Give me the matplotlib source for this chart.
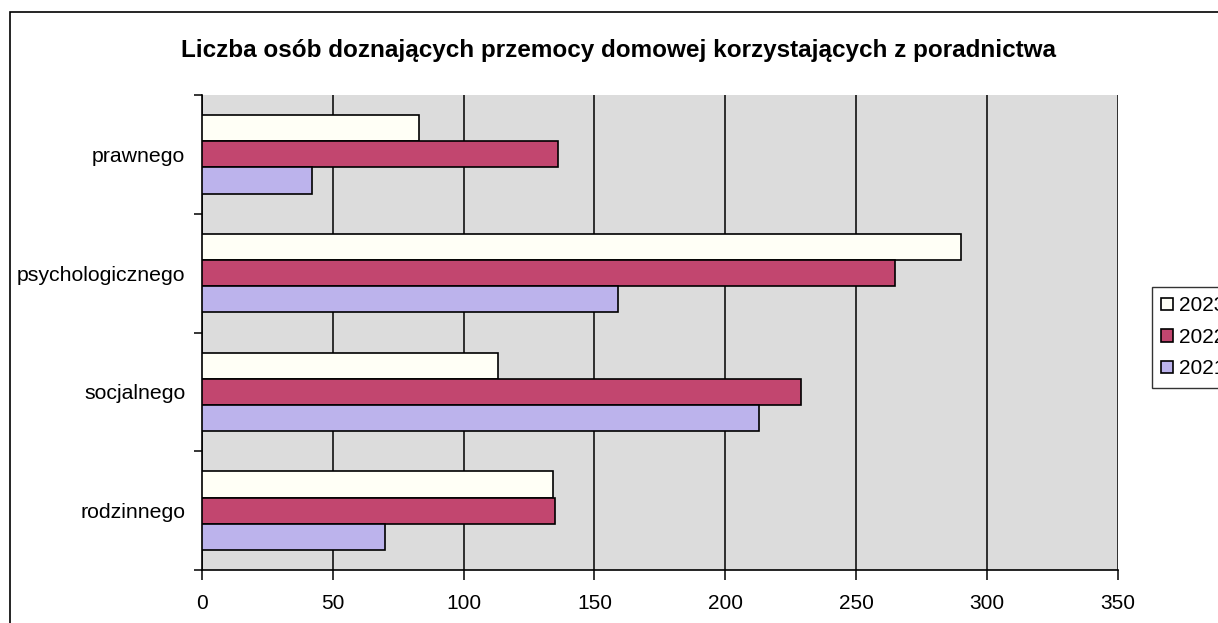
import numpy as np
import matplotlib
matplotlib.use("Agg")
import matplotlib.pyplot as plt
from matplotlib.patches import Rectangle
from matplotlib.ticker import MultipleLocator, FixedLocator

plt.rcParams['font.family'] = ['Liberation Sans', 'DejaVu Sans']

categories = ["prawnego", "psychologicznego", "socjalnego", "rodzinnego"]
years = ["2023", "2022", "2021"]
v2023 = [83, 290, 113, 134]
v2022 = [136, 265, 229, 135]
v2021 = [42, 159, 213, 70]

colors = {"2023": "#fffff6", "2022": "#c2466f", "2021": "#bcb3ec"}
series = {"2023": v2023, "2022": v2022, "2021": v2021}

fig = plt.figure(figsize=(12.18, 6.23), dpi=100)
ax = fig.add_axes([0.1658, 0.085, 0.752, 0.7625])
ax.set_facecolor("#dcdcdc")

# outer frame of the chart (cut at right and bottom)
fig.patches.append(Rectangle((10 / 1218, -0.1), 1.2, 1.0 - 12 / 623 + 0.1,
                             transform=fig.transFigure, fill=False,
                             edgecolor="black", linewidth=1.2, zorder=0))

y = np.arange(len(categories))
h = 0.22
offsets = {"2023": -h, "2022": 0.0, "2021": h}
for yr in years:
    ax.barh(y + offsets[yr], series[yr], height=h, color=colors[yr],
            edgecolor="black", linewidth=1.2, label=yr, zorder=3)

ax.set_xlim(0, 350)
ax.set_ylim(3.5, -0.5)
ax.xaxis.set_major_locator(MultipleLocator(50))
ax.grid(axis="x", color="black", linewidth=1.1, zorder=1)
ax.set_axisbelow(True)

ax.set_yticks(y)
ax.set_yticklabels(categories, fontsize=15.3)
ax.yaxis.set_minor_locator(FixedLocator(np.arange(-0.5, 4.0, 1.0)))
ax.tick_params(axis="y", which="major", length=0, pad=12)
ax.tick_params(axis="y", which="minor", length=6, width=1.1, direction="out")
ax.tick_params(axis="x", length=7, width=1.1, direction="out", labelsize=15, pad=10)

for s in ["top", "right"]:
    ax.spines[s].set_visible(False)
for s in ["left", "bottom"]:
    ax.spines[s].set_linewidth(1.2)

fig.text(618.5 / 1218, 1 - 50 / 623, "Liczba osób doznających przemocy domowej korzystających z poradnictwa",
         ha="center", va="center", fontsize=17.5, fontweight="bold")

handles, labels = ax.get_legend_handles_labels()
leg = fig.legend(handles, labels, loc="upper left",
                 bbox_to_anchor=(1152 / 1218, 1 - 287 / 623),
                 fontsize=15, frameon=True, fancybox=False, edgecolor="black",
                 handlelength=0.55, handleheight=0.55, handletextpad=0.3,
                 labelspacing=0.6, borderpad=0.45, borderaxespad=0)
leg.get_frame().set_linewidth(1.0)

fig.savefig("out.png", dpi=100)
